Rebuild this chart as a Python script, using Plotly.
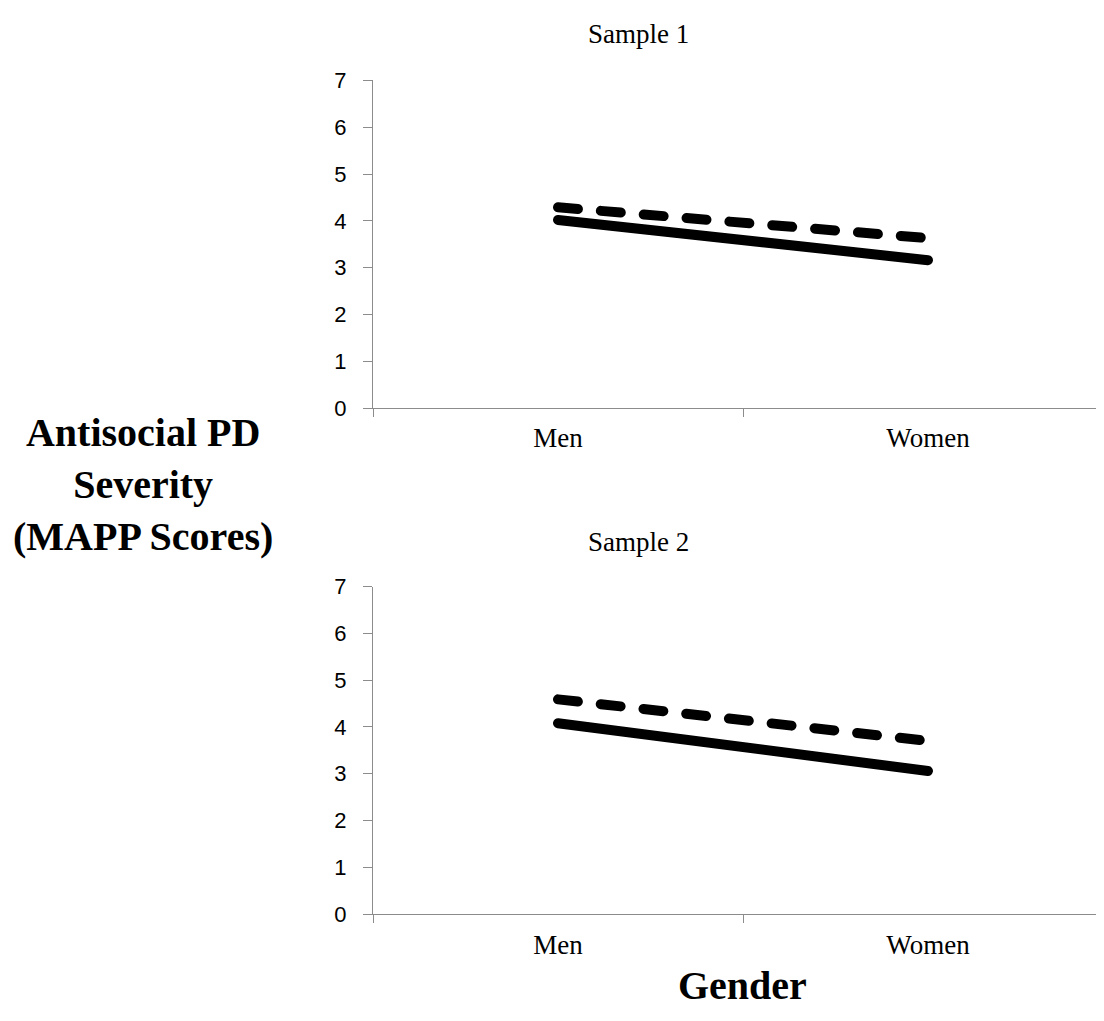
import plotly.graph_objects as go

# ---- data ----
categories = ["Men", "Women"]
sample1_solid = [4.02, 3.16]
sample1_dashed = [4.29, 3.63]
sample2_solid = [4.08, 3.06]
sample2_dashed = [4.59, 3.70]
y_ticks = [0, 1, 2, 3, 4, 5, 6, 7]
panel_titles = ["Sample 1", "Sample 2"]
y_title = "Antisocial PD<br>Severity<br>(MAPP Scores)"
x_title = "Gender"

# page is 1104x1021; the default body margin of 8px surrounds the figure
PAGE_W, PAGE_H = 1104, 1021
OFF = 8
W, H = PAGE_W - 2 * OFF, PAGE_H - 2 * OFF
SERIF = "Liberation Serif"
SANS = "Liberation Sans"
AXIS_COLOR = "#8c8c8c"

def px_x(p):
    return (p - OFF) / W

def px_y(p):
    return 1 - (p - OFF) / H

fig = go.Figure()

def add_pair(solid, dashed, xa, ya):
    fig.add_trace(go.Scatter(x=categories, y=solid, mode="lines", name="Solid",
                             line=dict(color="black", width=10),
                             xaxis=xa, yaxis=ya, showlegend=False))
    fig.add_trace(go.Scatter(x=categories, y=dashed, mode="lines", name="Dashed",
                             line=dict(color="black", width=10, dash="20px,23px"),
                             xaxis=xa, yaxis=ya, showlegend=False))

add_pair(sample1_solid, sample1_dashed, "x", "y")
add_pair(sample2_solid, sample2_dashed, "x2", "y2")

AXIS_X = 373
CAT_W = 370.0
x_range = [-0.5, -0.5 + (OFF + W - AXIS_X) / CAT_W]

xaxis_common = dict(
    type="category", range=x_range, domain=[px_x(AXIS_X), 1],
    showline=True, linecolor=AXIS_COLOR, linewidth=1,
    ticks="outside", tickson="boundaries", ticklen=8, tickcolor=AXIS_COLOR, tickwidth=1,
    showgrid=False, zeroline=False,
    tickfont=dict(family=SERIF, size=27, color="black"),
    ticklabelstandoff=6,
)
yaxis_common = dict(
    range=[0, 7], tickvals=y_ticks,
    showline=True, linecolor=AXIS_COLOR, linewidth=1,
    ticks="outside", ticklen=9, tickcolor=AXIS_COLOR, tickwidth=1,
    showgrid=False, zeroline=False,
    tickfont=dict(family=SANS, size=22, color="black"),
    ticklabelstandoff=12,
)

fig.update_layout(
    width=W, height=H,
    margin=dict(l=0, r=0, t=0, b=0),
    paper_bgcolor="white", plot_bgcolor="white",
    showlegend=False,
    xaxis=dict(**xaxis_common, anchor="y"),
    yaxis=dict(**yaxis_common, domain=[px_y(406), px_y(70)], anchor="x"),
    xaxis2=dict(**xaxis_common, anchor="y2"),
    yaxis2=dict(**yaxis_common, domain=[px_y(925), px_y(589)], anchor="x2"),
)

annotations = [
    dict(text=panel_titles[0], x=px_x(638), y=px_y(22), xref="paper", yref="paper",
         xanchor="center", yanchor="middle", showarrow=False,
         font=dict(family=SERIF, size=27, color="black")),
    dict(text=panel_titles[1], x=px_x(638), y=px_y(543), xref="paper", yref="paper",
         xanchor="center", yanchor="middle", showarrow=False,
         font=dict(family=SERIF, size=27, color="black")),
    dict(text=y_title, x=px_x(143), y=px_y(484), xref="paper", yref="paper",
         xanchor="center", yanchor="middle", showarrow=False, align="center",
         font=dict(family=SERIF, size=40, color="black", weight="bold")),
    dict(text=x_title, x=px_x(742), y=px_y(998), xref="paper", yref="paper",
         xanchor="center", yanchor="middle", showarrow=False,
         font=dict(family=SERIF, size=40, color="black", weight="bold")),
]
fig.update_layout(annotations=annotations)

post = """
document.querySelectorAll('.scatterlayer .js-line').forEach(function(p){
  p.style.strokeLinecap = 'round';
});
"""
fig.write_html("out.html", post_script=post)
